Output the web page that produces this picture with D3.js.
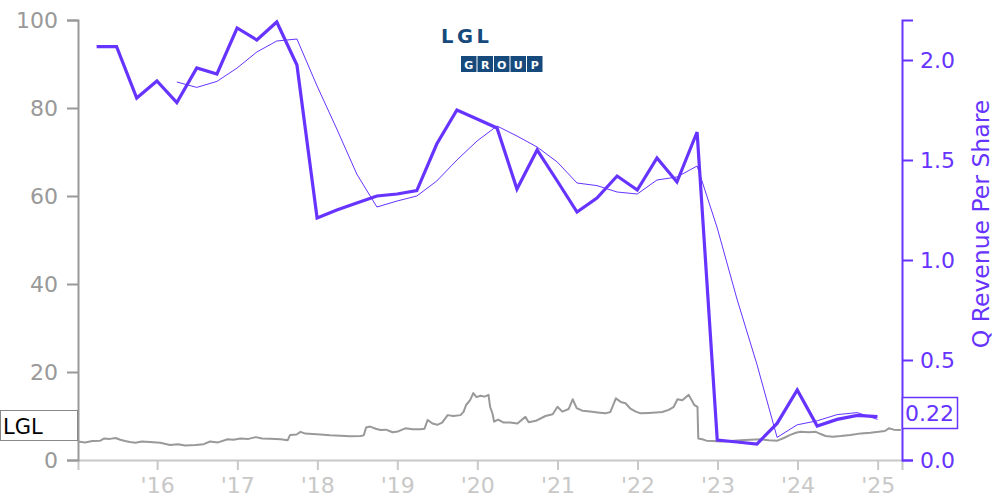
<!DOCTYPE html>
<html>
<head>
<meta charset="utf-8">
<script src="https://cdn.jsdelivr.net/npm/d3@7"></script>
<style>
  html, body { margin: 0; padding: 0; background: #fff; }
  svg { display: block; font-family: "DejaVu Sans", sans-serif; }
</style>
</head>
<body>
<svg id="chart" width="1000" height="500"></svg>
<script>
// ---------------- DATA ----------------
const quarterDates = [
  "2015-03-31","2015-06-30","2015-09-30","2015-12-31",
  "2016-03-31","2016-06-30","2016-09-30","2016-12-31",
  "2017-03-31","2017-06-30","2017-09-30","2017-12-31",
  "2018-03-31","2018-06-30","2018-09-30","2018-12-31",
  "2019-03-31","2019-06-30","2019-09-30","2019-12-31",
  "2020-03-31","2020-06-30","2020-09-30","2020-12-31",
  "2021-03-31","2021-06-30","2021-09-30","2021-12-31",
  "2022-03-31","2022-06-30","2022-09-30","2022-12-31",
  "2023-03-31","2023-06-30","2023-09-30","2023-12-31",
  "2024-03-31","2024-06-30","2024-09-30","2024-12-31"
];
const qRevenuePerShare = [
  2.067, 2.067, 1.81, 1.895,
  1.787, 1.96, 1.93, 2.16,
  2.10, 2.19, 1.975, 1.21,
  1.25, 1.285, 1.32, 1.33,
  1.347, 1.58, 1.75, 1.705,
  1.66, 1.355, 1.55, 1.395,
  1.24, 1.31, 1.42, 1.35,
  1.51, 1.39, 1.64, 0.10,
  0.09, 0.08, 0.183, 0.35,
  0.17, 0.203, 0.223, 0.217
];
// trailing four-quarter average, starting at 2016-03-31 (index 4)
const avgStartIndex = 4;
const qRevenueAvg = [
  1.89, 1.863, 1.893, 1.96,
  2.04, 2.095, 2.105, 1.87,
  1.655, 1.43, 1.265, 1.295,
  1.32, 1.395, 1.50, 1.595,
  1.67, 1.62, 1.565, 1.49,
  1.385, 1.372, 1.34, 1.33,
  1.40, 1.415, 1.47, 1.16,
  0.805, 0.478, 0.113, 0.176,
  0.196, 0.227, 0.237, 0.203
];
// share price (decimal year, value)
const priceYears = [
  2015.01,2015.10,2015.19,2015.29,2015.34,2015.41,2015.48,2015.54,2015.60,2015.66,
  2015.73,2015.81,2015.91,2016.04,2016.16,2016.26,2016.35,2016.48,2016.58,2016.66,
  2016.76,2016.88,2016.95,2017.04,2017.14,2017.23,2017.31,2017.41,2017.54,2017.63,
  2017.66,2017.74,2017.79,2017.85,2017.94,2018.04,2018.16,2018.29,2018.41,2018.54,
  2018.58,2018.61,2018.66,2018.73,2018.79,2018.86,2018.94,2019.01,2019.10,2019.19,
  2019.29,2019.34,2019.38,2019.44,2019.50,2019.56,2019.63,2019.70,2019.79,2019.83,
  2019.86,2019.91,2019.95,2019.99,2020.04,2020.09,2020.14,2020.16,2020.19,2020.21,
  2020.26,2020.33,2020.41,2020.50,2020.60,2020.64,2020.73,2020.85,2020.94,2021.00,
  2021.06,2021.14,2021.19,2021.24,2021.31,2021.41,2021.50,2021.60,2021.66,2021.73,
  2021.79,2021.85,2021.91,2021.98,2022.04,2022.14,2022.23,2022.31,2022.39,2022.45,
  2022.50,2022.56,2022.64,2022.68,2022.71,2022.75,2022.76,2022.81,2022.86,2022.94,
  2023.04,2023.16,2023.29,2023.41,2023.54,2023.64,2023.75,2023.83,2023.91,2023.98,
  2024.04,2024.14,2024.23,2024.29,2024.35,2024.44,2024.54,2024.66,2024.79,2024.91,
  2025.01,2025.09,2025.14,2025.20,2025.29
];
const priceValues = [
  4.2,4.0,4.3,4.4,4.9,4.8,5.0,4.6,4.3,4.1,
  3.9,4.2,4.1,3.9,3.4,3.6,3.3,3.4,3.6,4.2,
  4.0,4.7,4.6,4.9,4.8,5.2,4.9,4.85,4.7,4.5,
  5.7,5.8,6.4,6.0,5.9,5.8,5.6,5.5,5.4,5.45,
  5.6,7.4,7.6,7.1,6.8,6.9,6.3,6.5,7.2,7.0,
  7.0,7.1,9.1,8.3,8.0,8.5,10.2,10.0,10.2,11.0,
  12.5,13.6,15.2,14.3,14.6,14.4,14.8,12.1,10.5,8.7,
  9.2,8.5,8.5,8.3,9.8,8.6,8.9,10.0,10.4,12.1,
  11.0,11.6,13.8,11.8,11.2,11.0,10.8,10.6,10.9,14.0,
  13.2,12.9,11.7,11.0,10.6,10.7,10.8,10.9,11.4,12.0,
  13.8,13.6,14.8,13.5,12.5,12.1,4.9,4.7,4.4,4.3,
  4.2,4.3,4.5,4.6,4.7,4.5,4.4,5.0,5.7,6.2,
  6.4,6.3,6.4,5.9,5.45,5.3,5.45,5.7,6.05,6.2,
  6.4,6.6,7.2,6.9,6.8
];
const leftTicks = [0, 20, 40, 60, 80, 100];
const rightTicks = [0, 0.5, 1.0, 1.5, 2.0];
const tickerLabel = "LGL";
const lastValueLabel = "0.22";
const rightAxisTitle = "Q Revenue Per Share";

// ---------------- HELPERS ----------------
const parse = d3.timeParse("%Y-%m-%d");
function decYearToDate(y) {
  const yr = Math.floor(y);
  const start = new Date(yr, 0, 1), end = new Date(yr + 1, 0, 1);
  return new Date(start.getTime() + (y - yr) * (end - start));
}

const revenue = quarterDates.map((d, i) => ({ date: parse(d), v: qRevenuePerShare[i] }));
const revenueAvg = qRevenueAvg.map((v, i) => ({ date: parse(quarterDates[i + avgStartIndex]), v }));
const price = priceYears.map((y, i) => ({ date: decYearToDate(y), v: priceValues[i] }));

// ---------------- LAYOUT ----------------
const L = 78, R = 902, T = 20, B = 460;
const purple = "#6633ff";
const svg = d3.select("#chart");

const x = d3.scaleTime().domain([new Date(2015, 0, 5), new Date(2025, 3, 22)]).range([L, R]);
const yL = d3.scaleLinear().domain([0, 100]).range([B, T]);
const yR = d3.scaleLinear().domain([0, 2.2]).range([B, T]);

// x axis
const xAxis = svg.append("g").attr("transform", `translate(0,${B})`)
  .call(d3.axisBottom(x).ticks(d3.timeYear.every(1))
    .tickFormat(d => "'" + d3.timeFormat("%y")(d))
    .tickSize(10).tickSizeOuter(10).tickPadding(7));
xAxis.select(".domain").attr("stroke", "#c8c8c8").attr("stroke-width", 2);
xAxis.selectAll(".tick line").attr("stroke", "#c8c8c8").attr("stroke-width", 2);
xAxis.selectAll(".tick text").attr("fill", "#c8c8c8").attr("font-size", 22).attr("font-family", "DejaVu Sans");
xAxis.selectAll(".tick").filter(d => d.getFullYear() < 2016).remove();

// left axis
const yAxisL = svg.append("g").attr("transform", `translate(${L},0)`)
  .call(d3.axisLeft(yL).tickValues(leftTicks).tickSize(11).tickSizeOuter(11).tickPadding(9));
yAxisL.select(".domain").attr("stroke", "#999").attr("stroke-width", 2);
yAxisL.selectAll(".tick line").attr("stroke", "#999").attr("stroke-width", 2);
yAxisL.selectAll(".tick text").attr("fill", "#999").attr("font-size", 22).attr("font-family", "DejaVu Sans");

// right axis
const yAxisR = svg.append("g").attr("transform", `translate(${R},0)`)
  .call(d3.axisRight(yR).tickValues(rightTicks).tickFormat(d3.format(".1f"))
    .tickSize(11).tickSizeOuter(11).tickPadding(7));
yAxisR.select(".domain").attr("stroke", purple).attr("stroke-width", 2);
yAxisR.selectAll(".tick line").attr("stroke", purple).attr("stroke-width", 2);
yAxisR.selectAll(".tick text").attr("fill", purple).attr("font-size", 22).attr("font-family", "DejaVu Sans");

svg.append("text")
  .attr("transform", `translate(989,224) rotate(-90)`)
  .attr("text-anchor", "middle")
  .attr("fill", purple).attr("font-size", 23.5)
  .text(rightAxisTitle);

// logo
const logo = svg.append("g");
logo.append("text").attr("x", 441).attr("y", 42.5)
  .attr("font-family", "DejaVu Sans").attr("font-weight", "bold")
  .attr("font-size", 19.5).attr("letter-spacing", 3.5)
  .attr("fill", "#174a7c").text("LGL");
const groupLetters = ["G", "R", "O", "U", "P"];
groupLetters.forEach((ch, i) => {
  logo.append("rect").attr("x", 461 + i * 16.5).attr("y", 56).attr("width", 15.5).attr("height", 16)
    .attr("fill", "#174a7c");
  logo.append("text").attr("x", 461 + i * 16.5 + 7.75).attr("y", 69)
    .attr("text-anchor", "middle").attr("font-family", "DejaVu Sans").attr("font-weight", "bold")
    .attr("font-size", 11).attr("fill", "#fff").text(ch);
});

// price line
svg.append("path").datum(price)
  .attr("fill", "none").attr("stroke", "#999").attr("stroke-width", 2)
  .attr("stroke-linejoin", "round")
  .attr("d", d3.line().x(d => x(d.date)).y(d => yL(d.v)));

// revenue average (thin)
svg.append("path").datum(revenueAvg)
  .attr("fill", "none").attr("stroke", purple).attr("stroke-width", 1)
  .attr("d", d3.line().x(d => x(d.date)).y(d => yR(d.v)));

// revenue (thick)
svg.append("path").datum(revenue)
  .attr("fill", "none").attr("stroke", purple).attr("stroke-width", 3.2)
  .attr("stroke-linejoin", "miter")
  .attr("d", d3.line().x(d => x(d.date)).y(d => yR(d.v)));

// ticker box on the left
svg.append("rect").attr("x", 0.5).attr("y", 410.5).attr("width", 77).attr("height", 30)
  .attr("fill", "#fff").attr("stroke", "#888").attr("stroke-width", 1);
svg.append("text").attr("x", 3).attr("y", 434).attr("font-size", 21)
  .attr("fill", "#000").text(tickerLabel);

// last value box on the right
svg.append("rect").attr("x", 902.5).attr("y", 397.5).attr("width", 55).attr("height", 31)
  .attr("fill", "#fff").attr("stroke", purple).attr("stroke-width", 1.5);
svg.append("text").attr("x", 905).attr("y", 421).attr("font-size", 22)
  .attr("fill", purple).text(lastValueLabel);
</script>
</body>
</html>
